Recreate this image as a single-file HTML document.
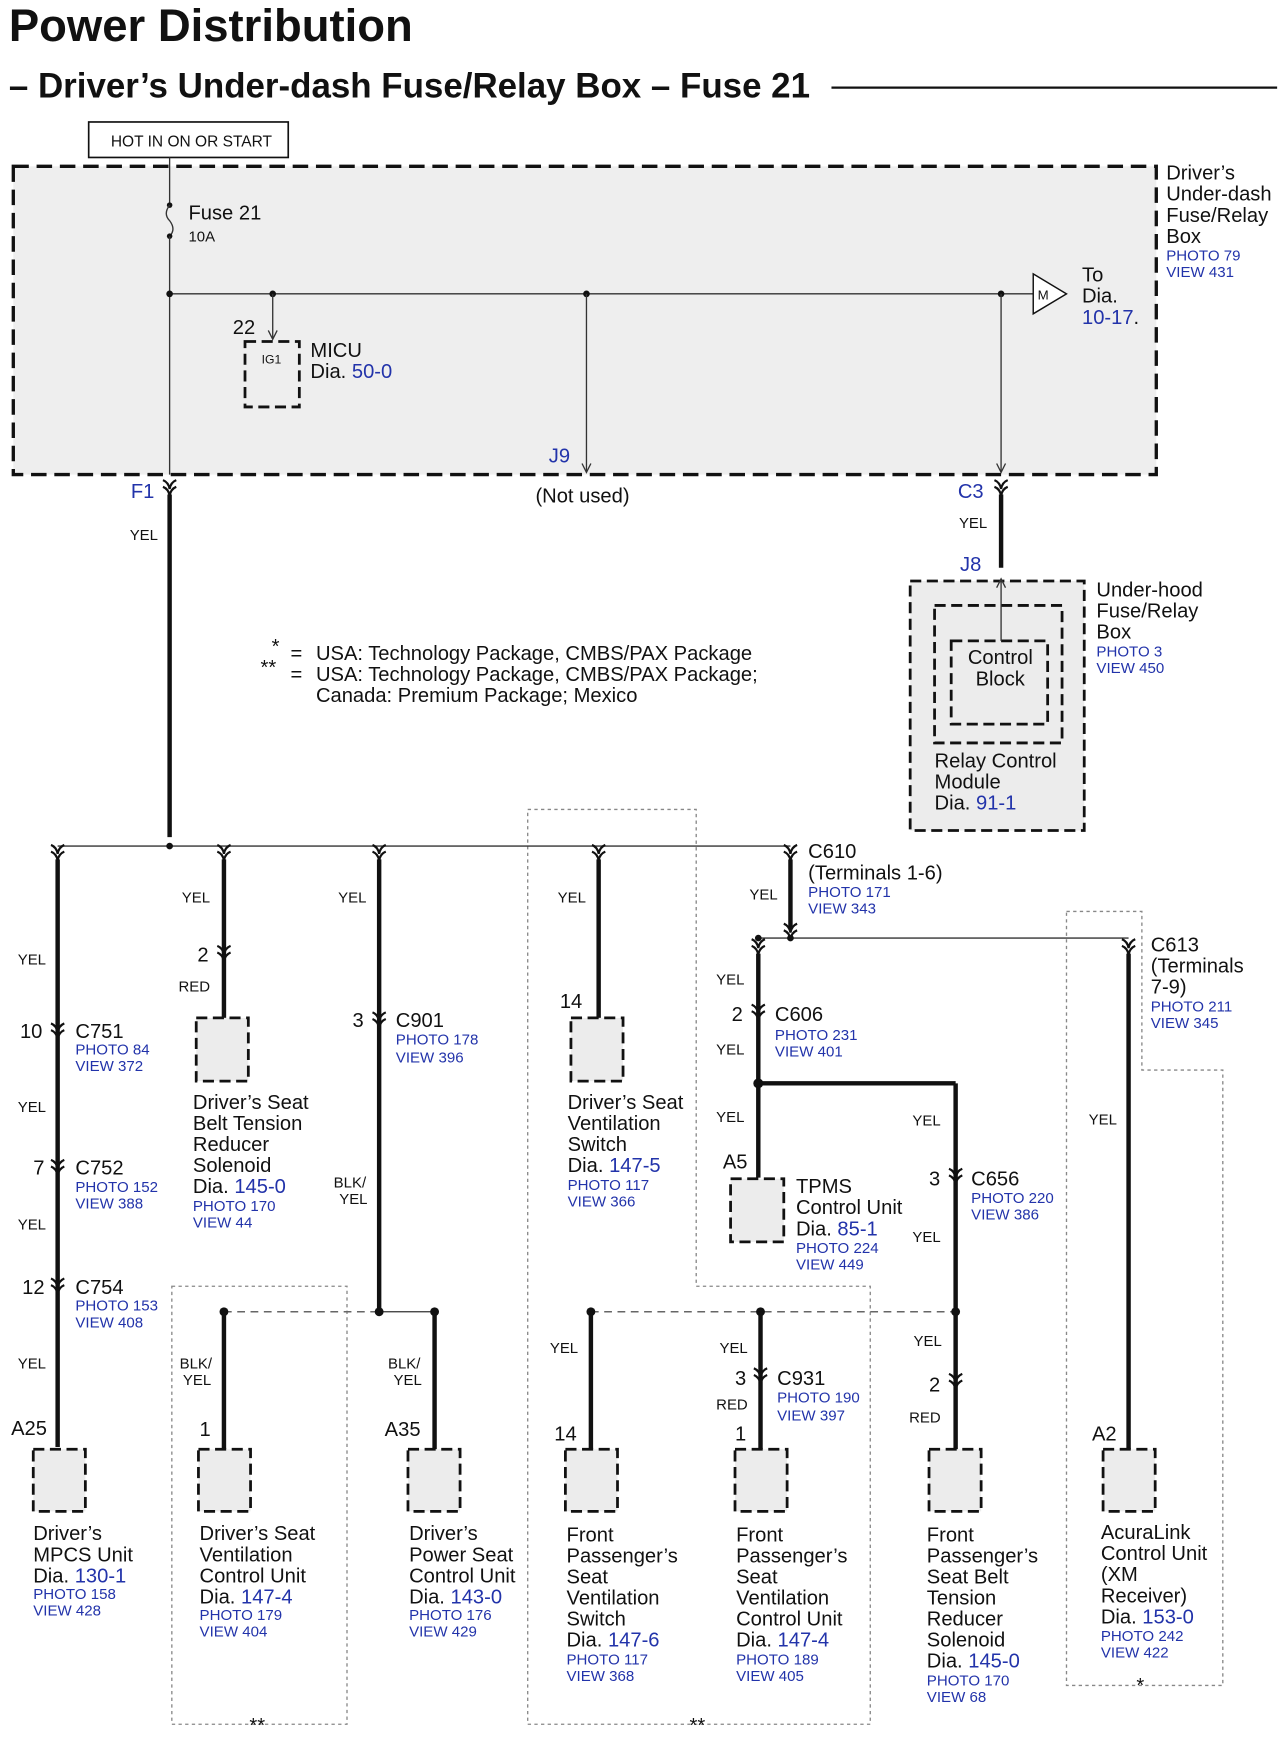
<!DOCTYPE html>
<html><head><meta charset="utf-8"><style>
html,body{margin:0;padding:0;background:#fff}
svg{display:block}
text{font-family:"Liberation Sans",Arial,sans-serif;fill:#111}
.t{font-size:18.2px}
.s{font-size:13.6px;fill:#2233aa}
.b{fill:#2233aa}
.y{font-size:13.5px}
.w{stroke:#111;stroke-width:4;fill:none}
.n{stroke:#333;stroke-width:1.2;fill:none}
.dg{stroke:#666;stroke-width:1.3;stroke-dasharray:7,5;fill:none}
.dt{stroke:#888;stroke-width:1.2;stroke-dasharray:3,3;fill:none}
.cb{fill:#ececec;stroke:#111;stroke-width:2.5;stroke-dasharray:10,5}
</style></head><body>
<svg width="1286" height="1742" viewBox="0 0 1160 1571" preserveAspectRatio="none" xmlns="http://www.w3.org/2000/svg">
<defs>
<g id="cn"><path d="M-6,-7 Q-1,-5 0,1 Q1,-5 6,-7 M-6,-1 Q-1,1 0,7 Q1,1 6,-1" stroke="#111" stroke-width="2" fill="none"/></g>
</defs>
<text x="8" y="37" style="font-size:41px;font-weight:bold">Power Distribution</text>
<text x="8" y="88" style="font-size:31.5px;font-weight:bold">– Driver’s Under-dash Fuse/Relay Box – Fuse 21</text>
<line x1="750" y1="79" x2="1152" y2="79" stroke="#111" stroke-width="2"/>
<rect x="80" y="110" width="180" height="32" fill="#fff" stroke="#111" stroke-width="1.5"/>
<text x="100" y="132" style="font-size:14px">HOT IN ON OR START</text>

<rect x="12" y="150" width="1031" height="278" fill="#eeeeee" stroke="#111" stroke-width="3" stroke-dasharray="14,7"/>
<line x1="153" y1="142" x2="153" y2="185" class="n"/>
<circle cx="153" cy="185" r="2.5" fill="#111"/>
<path d="M153,185 q-6,8 0,14 q6,8 0,14" class="n"/>
<circle cx="153" cy="213" r="2.5" fill="#111"/>
<line x1="153" y1="213" x2="153" y2="428" class="n"/>
<text x="170" y="198" class="t">Fuse 21</text>
<text x="170" y="218" class="y">10A</text>
<line x1="153" y1="265" x2="932" y2="265" class="n"/>
<g fill="#111"><circle cx="153" cy="265" r="3"/><circle cx="246" cy="265" r="3"/><circle cx="529" cy="265" r="3"/><circle cx="903" cy="265" r="3"/></g>
<line x1="246" y1="265" x2="246" y2="306" class="n"/><path d="M242,298 L246,306 L250,298" class="n"/>
<rect x="221" y="308" width="49" height="59" fill="none" stroke="#111" stroke-width="2.5" stroke-dasharray="10,5"/>
<text x="210" y="301" class="t">22</text>
<text x="236" y="328" style="font-size:11px">IG1</text>
<text x="280" y="322" class="t">MICU</text>
<text x="280" y="341" class="t">Dia. <tspan class="b">50-0</tspan></text>
<line x1="529" y1="265" x2="529" y2="426" class="n"/><path d="M525,418 L529,426 L533,418" class="n"/>
<line x1="903" y1="265" x2="903" y2="426" class="n"/><path d="M899,418 L903,426 L907,418" class="n"/>
<text x="495" y="417" class="t b">J9</text>
<text x="483" y="453" class="t">(Not used)</text>
<path d="M932,247 L962,265 L932,283 Z" fill="#fff" stroke="#111" stroke-width="1.3"/>
<text x="936" y="270" style="font-size:12px">M</text>
<text x="976" y="254" class="t">To</text>
<text x="976" y="273" class="t">Dia.</text>
<text x="976" y="292" class="t"><tspan class="b">10-17</tspan>.</text>
<text x="1052" y="162" class="t">Driver’s</text>
<text x="1052" y="181" class="t">Under-dash</text>
<text x="1052" y="200" class="t">Fuse/Relay</text>
<text x="1052" y="219" class="t">Box</text>
<text x="1052" y="235" class="s">PHOTO 79</text>
<text x="1052" y="250" class="s">VIEW 431</text>

<text x="118" y="449" class="t b">F1</text>
<use href="#cn" x="153" y="440"/>
<line x1="153" y1="446" x2="153" y2="755" class="w"/>
<text x="117" y="487" class="y">YEL</text>
<text x="864" y="449" class="t b">C3</text>
<use href="#cn" x="903" y="440"/>
<line x1="903" y1="446" x2="903" y2="512" class="w"/>
<text x="865" y="476" class="y">YEL</text>
<text x="866" y="515" class="t b">J8</text>
<rect x="821" y="524" width="157" height="225" fill="#ececec" stroke="#111" stroke-width="2.5" stroke-dasharray="10,5"/>
<rect x="843" y="546" width="115" height="124" fill="none" stroke="#111" stroke-width="2.5" stroke-dasharray="10,5"/>
<rect x="858" y="578" width="87" height="75" fill="none" stroke="#111" stroke-width="2.5" stroke-dasharray="10,5"/>
<line x1="903" y1="578" x2="903" y2="522" class="n"/><path d="M899,530 L903,522 L907,530" class="n"/>
<text x="873" y="599" class="t">Control</text>
<text x="880" y="618" class="t">Block</text>
<text x="843" y="692" class="t">Relay Control</text>
<text x="843" y="711" class="t">Module</text>
<text x="843" y="730" class="t">Dia. <tspan class="b">91-1</tspan></text>
<text x="989" y="538" class="t">Under-hood</text>
<text x="989" y="557" class="t">Fuse/Relay</text>
<text x="989" y="576" class="t">Box</text>
<text x="989" y="592" class="s">PHOTO 3</text>
<text x="989" y="607" class="s">VIEW 450</text>

<text x="245" y="589" class="t">*</text><text x="262" y="595" class="t">=</text><text x="285" y="595" class="t">USA: Technology Package, CMBS/PAX Package</text>
<text x="235" y="608" class="t">**</text><text x="262" y="614" class="t">=</text><text x="285" y="614" class="t">USA: Technology Package, CMBS/PAX Package;</text>
<text x="285" y="633" class="t">Canada: Premium Package; Mexico</text>

<rect x="155" y="1160" width="158" height="395" class="dt"/>
<path d="M476,730 L628,730 L628,1160 L785,1160 L785,1555 L476,1555 Z" class="dt"/>
<path d="M962,822 L1030,822 L1030,965 L1103,965 L1103,1520 L962,1520 Z" class="dt"/>
<text x="225" y="1562" class="t">**</text>
<text x="622" y="1562" class="t">**</text>
<text x="1025" y="1526" class="t">*</text>

<line x1="52" y1="763" x2="713" y2="763" class="n"/>
<circle cx="153" cy="763" r="3" fill="#111"/>
<use href="#cn" x="52" y="769"/><use href="#cn" x="202" y="769"/><use href="#cn" x="342" y="769"/><use href="#cn" x="540" y="769"/><use href="#cn" x="713" y="769"/>

<line x1="52" y1="775" x2="52" y2="1305" class="w"/>
<use href="#cn" x="52" y="930"/><use href="#cn" x="52" y="1053"/><use href="#cn" x="52" y="1160"/>
<text x="16" y="870" class="y">YEL</text>
<text x="18" y="936" class="t">10</text><text x="68" y="936" class="t">C751</text><text x="68" y="951" class="s">PHOTO 84</text><text x="68" y="966" class="s">VIEW 372</text>
<text x="16" y="1003" class="y">YEL</text>
<text x="30" y="1059" class="t">7</text><text x="68" y="1059" class="t">C752</text><text x="68" y="1075" class="s">PHOTO 152</text><text x="68" y="1090" class="s">VIEW 388</text>
<text x="16" y="1109" class="y">YEL</text>
<text x="20" y="1167" class="t">12</text><text x="68" y="1167" class="t">C754</text><text x="68" y="1182" class="s">PHOTO 153</text><text x="68" y="1197" class="s">VIEW 408</text>
<text x="16" y="1234" class="y">YEL</text>
<text x="10" y="1294" class="t">A25</text>
<rect x="30" y="1307" width="47" height="56" class="cb"/>
<text x="30" y="1389" class="t">Driver’s</text><text x="30" y="1408" class="t">MPCS Unit</text><text x="30" y="1427" class="t">Dia. <tspan class="b">130-1</tspan></text><text x="30" y="1442" class="s">PHOTO 158</text><text x="30" y="1457" class="s">VIEW 428</text>

<line x1="202" y1="775" x2="202" y2="918" class="w"/>
<use href="#cn" x="202" y="860"/>
<text x="164" y="814" class="y">YEL</text>
<text x="178" y="867" class="t">2</text>
<text x="161" y="894" class="y">RED</text>
<rect x="177" y="918" width="47" height="57" class="cb"/>
<text x="174" y="1000" class="t">Driver’s Seat</text><text x="174" y="1019" class="t">Belt Tension</text><text x="174" y="1038" class="t">Reducer</text><text x="174" y="1057" class="t">Solenoid</text><text x="174" y="1076" class="t">Dia. <tspan class="b">145-0</tspan></text><text x="174" y="1092" class="s">PHOTO 170</text><text x="174" y="1107" class="s">VIEW 44</text>

<line x1="342" y1="775" x2="342" y2="1183" class="w"/>
<use href="#cn" x="342" y="920"/>
<text x="305" y="814" class="y">YEL</text>
<text x="318" y="926" class="t">3</text><text x="357" y="926" class="t">C901</text><text x="357" y="942" class="s">PHOTO 178</text><text x="357" y="958" class="s">VIEW 396</text>
<text x="301" y="1071" class="y">BLK/</text><text x="306" y="1086" class="y">YEL</text>
<line x1="202" y1="1183" x2="342" y2="1183" class="dg"/>
<line x1="342" y1="1183" x2="392" y2="1183" class="n"/>
<g fill="#111"><circle cx="202" cy="1183" r="4"/><circle cx="342" cy="1183" r="4"/><circle cx="392" cy="1183" r="4"/></g>
<line x1="202" y1="1183" x2="202" y2="1307" class="w"/>
<text x="162" y="1234" class="y">BLK/</text><text x="165" y="1249" class="y">YEL</text>
<text x="180" y="1295" class="t">1</text>
<rect x="179" y="1307" width="47" height="56" class="cb"/>
<text x="180" y="1389" class="t">Driver’s Seat</text><text x="180" y="1408" class="t">Ventilation</text><text x="180" y="1427" class="t">Control Unit</text><text x="180" y="1446" class="t">Dia. <tspan class="b">147-4</tspan></text><text x="180" y="1461" class="s">PHOTO 179</text><text x="180" y="1476" class="s">VIEW 404</text>
<line x1="392" y1="1183" x2="392" y2="1307" class="w"/>
<text x="350" y="1234" class="y">BLK/</text><text x="355" y="1249" class="y">YEL</text>
<text x="347" y="1295" class="t">A35</text>
<rect x="368" y="1307" width="47" height="56" class="cb"/>
<text x="369" y="1389" class="t">Driver’s</text><text x="369" y="1408" class="t">Power Seat</text><text x="369" y="1427" class="t">Control Unit</text><text x="369" y="1446" class="t">Dia. <tspan class="b">143-0</tspan></text><text x="369" y="1461" class="s">PHOTO 176</text><text x="369" y="1476" class="s">VIEW 429</text>

<line x1="540" y1="775" x2="540" y2="918" class="w"/>
<text x="503" y="814" class="y">YEL</text>
<text x="505" y="909" class="t">14</text>
<rect x="515" y="918" width="47" height="57" class="cb"/>
<text x="512" y="1000" class="t">Driver’s Seat</text><text x="512" y="1019" class="t">Ventilation</text><text x="512" y="1038" class="t">Switch</text><text x="512" y="1057" class="t">Dia. <tspan class="b">147-5</tspan></text><text x="512" y="1073" class="s">PHOTO 117</text><text x="512" y="1088" class="s">VIEW 366</text>

<line x1="713" y1="775" x2="713" y2="838" class="w"/>
<use href="#cn" x="713" y="840"/>
<text x="676" y="811" class="y">YEL</text>
<text x="729" y="774" class="t">C610</text><text x="729" y="793" class="t">(Terminals 1-6)</text><text x="729" y="809" class="s">PHOTO 171</text><text x="729" y="824" class="s">VIEW 343</text>
<line x1="684" y1="846" x2="1018" y2="846" class="n"/>
<circle cx="713" cy="846" r="3" fill="#111"/><circle cx="684" cy="846" r="3" fill="#111"/>
<use href="#cn" x="684" y="854"/><use href="#cn" x="1018" y="854"/>
<line x1="684" y1="860" x2="684" y2="1062" class="w"/>
<use href="#cn" x="684" y="913"/>
<text x="646" y="888" class="y">YEL</text>
<text x="660" y="921" class="t">2</text><text x="699" y="921" class="t">C606</text><text x="699" y="938" class="s">PHOTO 231</text><text x="699" y="953" class="s">VIEW 401</text>
<text x="646" y="951" class="y">YEL</text>
<circle cx="684" cy="977" r="4.5" fill="#111"/>
<line x1="684" y1="977" x2="862" y2="977" class="w"/>
<line x1="862" y1="977" x2="862" y2="1307" class="w"/>
<text x="646" y="1012" class="y">YEL</text>
<text x="652" y="1054" class="t">A5</text>
<rect x="659" y="1063" width="48" height="57" class="cb"/>
<text x="718" y="1076" class="t">TPMS</text><text x="718" y="1095" class="t">Control Unit</text><text x="718" y="1114" class="t">Dia. <tspan class="b">85-1</tspan></text><text x="718" y="1130" class="s">PHOTO 224</text><text x="718" y="1145" class="s">VIEW 449</text>
<text x="823" y="1015" class="y">YEL</text>
<use href="#cn" x="862" y="1061"/>
<text x="838" y="1069" class="t">3</text><text x="876" y="1069" class="t">C656</text><text x="876" y="1085" class="s">PHOTO 220</text><text x="876" y="1100" class="s">VIEW 386</text>
<text x="823" y="1120" class="y">YEL</text>
<line x1="533" y1="1183" x2="862" y2="1183" class="dg"/>
<g fill="#111"><circle cx="533" cy="1183" r="4"/><circle cx="686" cy="1183" r="4"/><circle cx="862" cy="1183" r="4"/></g>
<line x1="533" y1="1183" x2="533" y2="1307" class="w"/>
<text x="496" y="1220" class="y">YEL</text>
<text x="500" y="1299" class="t">14</text>
<rect x="510" y="1307" width="47" height="56" class="cb"/>
<text x="511" y="1390" class="t">Front</text><text x="511" y="1409" class="t">Passenger’s</text><text x="511" y="1428" class="t">Seat</text><text x="511" y="1447" class="t">Ventilation</text><text x="511" y="1466" class="t">Switch</text><text x="511" y="1485" class="t">Dia. <tspan class="b">147-6</tspan></text><text x="511" y="1501" class="s">PHOTO 117</text><text x="511" y="1516" class="s">VIEW 368</text>
<line x1="686" y1="1183" x2="686" y2="1307" class="w"/>
<use href="#cn" x="686" y="1241"/>
<text x="649" y="1220" class="y">YEL</text>
<text x="663" y="1249" class="t">3</text><text x="701" y="1249" class="t">C931</text><text x="701" y="1265" class="s">PHOTO 190</text><text x="701" y="1281" class="s">VIEW 397</text>
<text x="646" y="1271" class="y">RED</text>
<text x="663" y="1299" class="t">1</text>
<rect x="663" y="1307" width="47" height="56" class="cb"/>
<text x="664" y="1390" class="t">Front</text><text x="664" y="1409" class="t">Passenger’s</text><text x="664" y="1428" class="t">Seat</text><text x="664" y="1447" class="t">Ventilation</text><text x="664" y="1466" class="t">Control Unit</text><text x="664" y="1485" class="t">Dia. <tspan class="b">147-4</tspan></text><text x="664" y="1501" class="s">PHOTO 189</text><text x="664" y="1516" class="s">VIEW 405</text>
<use href="#cn" x="862" y="1246"/>
<text x="824" y="1214" class="y">YEL</text>
<text x="838" y="1255" class="t">2</text>
<text x="820" y="1283" class="y">RED</text>
<rect x="838" y="1307" width="47" height="56" class="cb"/>
<text x="836" y="1390" class="t">Front</text><text x="836" y="1409" class="t">Passenger’s</text><text x="836" y="1428" class="t">Seat Belt</text><text x="836" y="1447" class="t">Tension</text><text x="836" y="1466" class="t">Reducer</text><text x="836" y="1485" class="t">Solenoid</text><text x="836" y="1504" class="t">Dia. <tspan class="b">145-0</tspan></text><text x="836" y="1520" class="s">PHOTO 170</text><text x="836" y="1535" class="s">VIEW 68</text>

<line x1="1018" y1="860" x2="1018" y2="1307" class="w"/>
<text x="1038" y="858" class="t">C613</text><text x="1038" y="877" class="t">(Terminals</text><text x="1038" y="896" class="t">7-9)</text><text x="1038" y="912" class="s">PHOTO 211</text><text x="1038" y="927" class="s">VIEW 345</text>
<text x="982" y="1014" class="y">YEL</text>
<text x="985" y="1299" class="t">A2</text>
<rect x="995" y="1307" width="47" height="56" class="cb"/>
<text x="993" y="1388" class="t">AcuraLink</text><text x="993" y="1407" class="t">Control Unit</text><text x="993" y="1426" class="t">(XM</text><text x="993" y="1445" class="t">Receiver)</text><text x="993" y="1464" class="t">Dia. <tspan class="b">153-0</tspan></text><text x="993" y="1480" class="s">PHOTO 242</text><text x="993" y="1495" class="s">VIEW 422</text>
</svg>
</body></html>
